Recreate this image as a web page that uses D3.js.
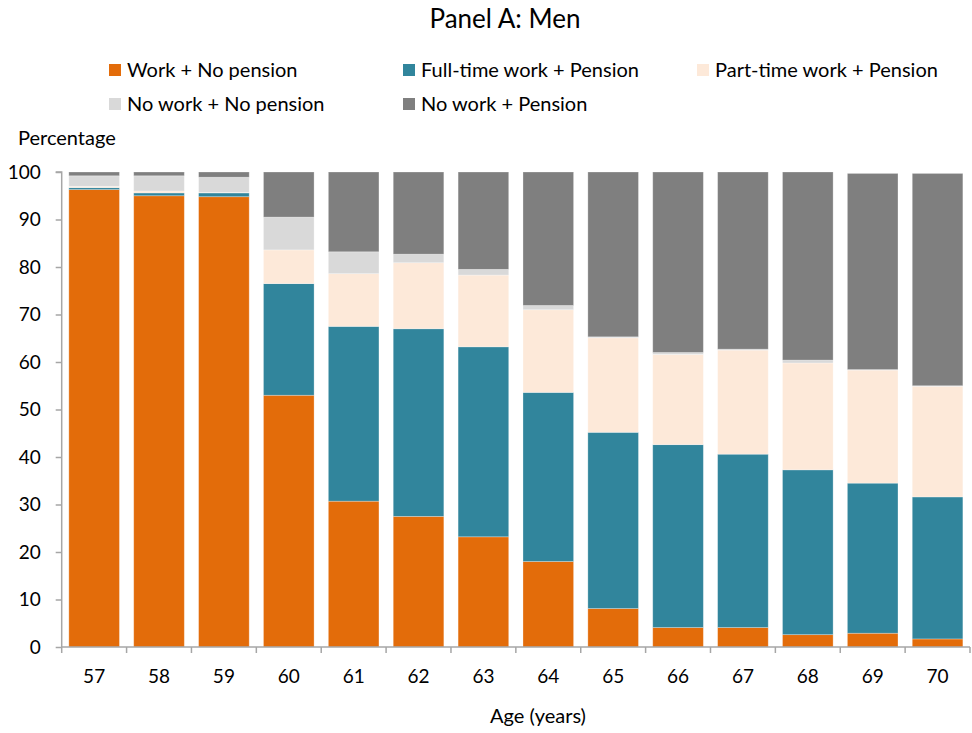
<!DOCTYPE html>
<html>
<head>
<meta charset="utf-8">
<script src="https://cdn.jsdelivr.net/npm/d3@7"></script>
<style>
  html, body { margin: 0; padding: 0; background: #fff; }
  svg { display: block; font-family: Lato, "Open Sans", sans-serif; }
</style>
</head>
<body>
<svg id="chart" width="972" height="733"></svg>
<script>
// ---- data ----
const ages = ["57","58","59","60","61","62","63","64","65","66","67","68","69","70"];
const workNoPension      = [96.3, 95.0, 94.8, 53.0, 30.7, 27.5, 23.2, 18.0,  8.1,  4.1,  4.1,  2.6,  2.9,  1.7];
const fullTimePension    = [ 0.4,  0.6,  0.8, 23.5, 36.8, 39.5, 40.0, 35.6, 37.1, 38.5, 36.5, 34.7, 31.6, 29.9];
const partTimePension    = [ 0.3,  0.4,  0.1,  7.1, 11.1, 13.9, 15.1, 17.4, 19.9, 19.0, 21.9, 22.5, 23.8, 23.3];
const noWorkNoPension    = [ 2.2,  3.2,  3.2,  6.9,  4.6,  1.8,  1.2,  0.9,  0.2,  0.4,  0.2,  0.6,  0.1,  0.1];
const noWorkPension      = [ 0.8,  0.8,  1.1,  9.5, 16.8, 17.3, 20.5, 28.1, 34.7, 38.0, 37.3, 39.6, 41.3, 44.7];
const seriesNames = ["Work + No pension", "Full-time work + Pension", "Part-time work + Pension",
                     "No work + No pension", "No work + Pension"];
const seriesValues = [workNoPension, fullTimePension, partTimePension, noWorkNoPension, noWorkPension];
const yTicks = [0,10,20,30,40,50,60,70,80,90,100];
const titleText = "Panel A: Men";
const yAxisLabel = "Percentage";
const xAxisLabel = "Age (years)";

// ---- styles ----
const colors = ["#E36C0A", "#31859C", "#FDE9D9", "#D9D9D9", "#7F7F7F"];
const axisColor = "#a6a6a6";

const svg = d3.select("#chart");

const x = d3.scaleBand().domain(ages).range([61.7, 970]).paddingInner(0.22).paddingOuter(0.11);
const y = d3.scaleLinear().domain([0, 100]).range([647, 172]);

// build table for stacking
const table = ages.map((a, i) => {
  const row = { age: a };
  seriesNames.forEach((s, k) => row[s] = seriesValues[k][i]);
  return row;
});
const stacked = d3.stack().keys(seriesNames)(table);

// bars
svg.append("g").selectAll("g")
  .data(stacked)
  .join("g")
  .attr("fill", (d, i) => colors[i])
  .selectAll("rect")
  .data(d => d)
  .join("rect")
  .attr("x", d => x(d.data.age))
  .attr("width", x.bandwidth())
  .attr("y", d => y(d[1]))
  .attr("height", d => Math.max(0, y(d[0]) - y(d[1])))
  .attr("stroke", "#ffffff")
  .attr("stroke-opacity", 0.35)
  .attr("stroke-width", 0.8);

// y axis
const yAxis = svg.append("g")
  .attr("transform", "translate(61.7,0)")
  .call(d3.axisLeft(y).tickValues(yTicks).tickSize(6).tickPadding(15).tickFormat(d3.format("d")));
yAxis.select(".domain").attr("stroke", axisColor).attr("stroke-width", 1.5)
  .attr("d", `M-6,${y(100)}H0V${y(0)}`);
yAxis.selectAll(".tick line").attr("stroke", axisColor).attr("stroke-width", 1.5);
yAxis.selectAll(".tick text").attr("fill", "#000").style("font-size", "19px")
  .style("font-family", "Lato, sans-serif");

// x axis (ticks at category boundaries)
const xg = svg.append("g").attr("transform", `translate(0,${y(0)})`);
xg.append("line").attr("x1", 61.7).attr("x2", 970).attr("y1", 0).attr("y2", 0)
  .attr("stroke", axisColor).attr("stroke-width", 1.5);
const step = x.step();
const bnds = d3.range(ages.length + 1).map(i => x.range()[0] + i * step);
xg.selectAll("line.tk").data(bnds).join("line").attr("class", "tk")
  .attr("x1", d => d).attr("x2", d => d).attr("y1", 0).attr("y2", 6)
  .attr("stroke", axisColor).attr("stroke-width", 1.5);
xg.selectAll("text").data(ages).join("text")
  .attr("x", d => x(d) + x.bandwidth() / 2)
  .attr("y", 36)
  .attr("text-anchor", "middle")
  .style("font-size", "19px")
  .text(d => d);

// title
svg.append("text").attr("x", 505).attr("y", 28).attr("text-anchor", "middle")
  .style("font-size", "26px").text(titleText);

// axis labels
svg.append("text").attr("x", 18).attr("y", 145).style("font-size", "20px").text(yAxisLabel);
svg.append("text").attr("x", 538).attr("y", 723).attr("text-anchor", "middle")
  .style("font-size", "20px").text(xAxisLabel);

// legend
const legendPos = [[109, 64], [403, 64], [697, 64], [109, 98], [403, 98]];
const lg = svg.append("g").selectAll("g").data(seriesNames).join("g")
  .attr("transform", (d, i) => `translate(${legendPos[i][0]},${legendPos[i][1]})`);
lg.append("rect").attr("width", 12).attr("height", 12).attr("fill", (d, i) => colors[i]);
lg.append("text").attr("x", 18).attr("y", 12.5).style("font-size", "20px").text(d => d);
</script>
</body>
</html>
